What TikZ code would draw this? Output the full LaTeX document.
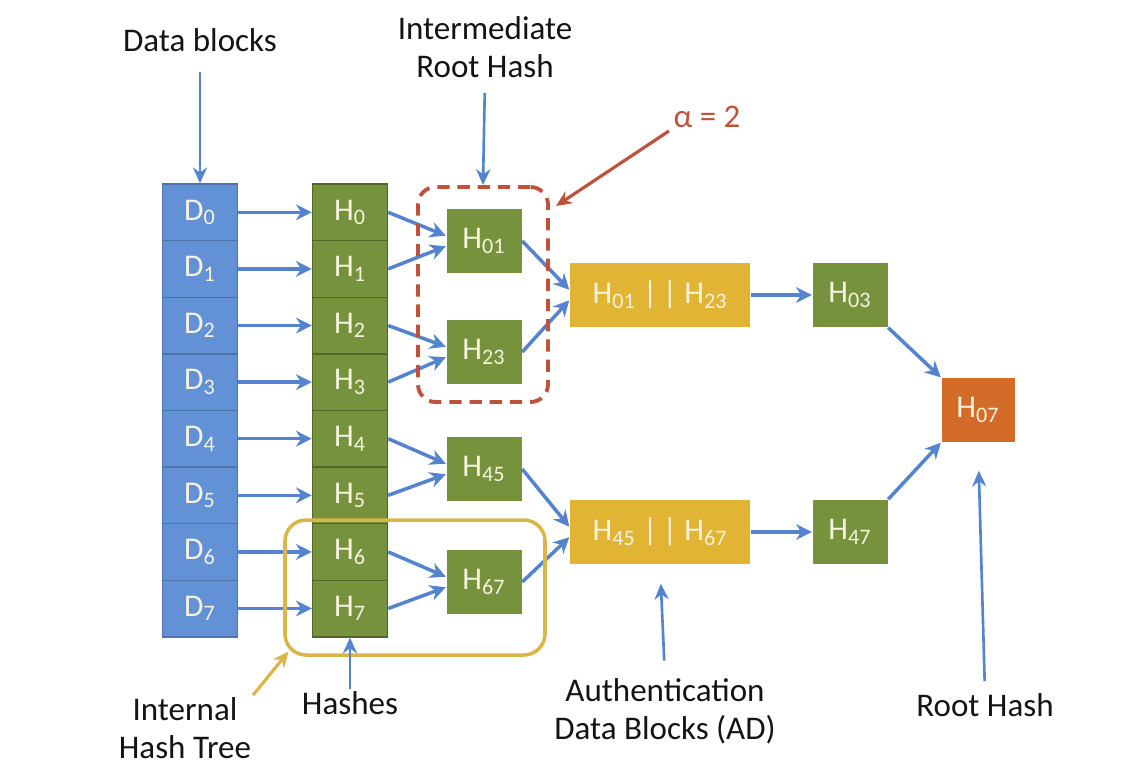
\documentclass[tikz,border=0pt]{standalone}
\usepackage{fontspec}
\setmainfont{Carlito}
\usetikzlibrary{fit,arrows.meta}
\definecolor{dblue}{RGB}{98,145,214}
\definecolor{hgreen}{RGB}{118,146,60}
\definecolor{adyellow}{RGB}{226,180,52}
\definecolor{rootorange}{RGB}{210,108,40}
\definecolor{arrblue}{RGB}{84,132,208}
\definecolor{alphared}{RGB}{192,82,60}
\definecolor{treeyellow}{RGB}{218,182,72}
\definecolor{boxtext}{RGB}{246,242,222}
\definecolor{lbltext}{RGB}{20,20,20}
\newcommand{\hs}[1]{H\textsubscript{#1}}
\tikzset{
  cell/.style={minimum width=15mm, minimum height=11.32mm, inner sep=0pt, text=boxtext, font=\fontsize{18}{20}\selectfont, line width=0.8pt},
  dcell/.style={cell, fill=dblue, draw=dblue!80!black},
  hcell/.style={cell, fill=hgreen, draw=hgreen!70!black},
  hbox/.style={cell, fill=hgreen, minimum height=12.8mm},
  adbox/.style={hbox, fill=adyellow, minimum width=36mm},
  rootbox/.style={hbox, fill=rootorange, minimum width=14.6mm},
  flow/.style={draw=arrblue, line width=2pt, -{Stealth[length=9pt,width=9pt]}},
  pointer/.style={draw=arrblue, line width=1.5pt, -{Stealth[length=9pt,width=8pt]}},
  lbl/.style={font=\fontsize{18.8}{21.5}\selectfont, text=lbltext, align=center, inner sep=0pt}
}
\begin{document}
\begin{tikzpicture}[x=0.2mm, y=-0.2mm]
  \useasboundingbox (0,0) rectangle (1138,777);
  \foreach \i in {0,...,7} {
    \node[dcell] (d\i) at (200,{212.3+56.6*\i}) {D\textsubscript{\i}};
    \node[hcell] (h\i) at (350,{212.3+56.6*\i}) {\hs{\i}};
    \draw[flow] (d\i) -- (h\i);
  }
  \node[hbox] (h01) at (484,241) {\hs{01}};
  \node[hbox] (h23) at (484,352) {\hs{23}};
  \node[hbox] (h45) at (484,469) {\hs{45}};
  \node[hbox] (h67) at (484,582) {\hs{67}};
  \node[adbox] (ad03) at (660,295) {\hs{01}\ |\,|\ \hs{23}};
  \node[adbox] (ad47) at (660,532) {\hs{45}\ |\,|\ \hs{67}};
  \node[hbox] (h03) at (850,295) {\hs{03}};
  \node[hbox] (h47) at (850,532) {\hs{47}};
  \node[rootbox] (h07) at (978,410) {\hs{07}};
  \foreach \a/\b/\p in {0/1/01, 2/3/23, 4/5/45, 6/7/67} {
    \draw[flow] (h\a.east) -- ([yshift=3pt]h\p.west);
    \draw[flow] (h\b.east) -- ([yshift=-3pt]h\p.west);
  }
  \draw[flow] (h01.east) -- ([yshift=3pt]ad03.west);
  \draw[flow] (h23.east) -- ([yshift=-3pt]ad03.west);
  \draw[flow] (h45.east) -- ([yshift=3pt]ad47.west);
  \draw[flow] (h67.east) -- ([yshift=-3pt]ad47.west);
  \draw[flow] (ad03) -- (h03);
  \draw[flow] (ad47) -- (h47);
  \draw[flow] (h03.south east) -- (h07.north west);
  \draw[flow] (h47.north east) -- (h07.south west);

  \node[draw=alphared, line width=2.2pt, dash pattern=on 7pt off 4.5pt, rounded corners=10pt, inner sep=0pt, fit={(418,187) (548,402)}] (abox) {};
  \node[draw=treeyellow, line width=2pt, rounded corners=12pt, inner sep=0pt, fit={(285,520) (545,655)}] (tbox) {};
  \coordinate (atip) at (556,206);

  \node[lbl] (lbldata) at (200,40) {Data blocks};
  \node[lbl] (lblirh) at (485,47) {Intermediate\\Root Hash};
  \node[lbl, text=alphared] (lblalpha) at (707,117) {α = 2};
  \node[lbl] (lbltree) at (185,728) {Internal\\Hash Tree};
  \node[lbl] (lblhash) at (350,703) {Hashes};
  \node[lbl] (lblad) at (665,711) {Authentication\\Data Blocks (AD)};
  \node[lbl] (lblroot) at (985,705) {Root Hash};

  \draw[pointer, shorten <=4mm] (lbldata.south) -- (d0.north);
  \draw[pointer, shorten <=3mm] (lblirh.south) -- (abox.north);
  \draw[pointer, draw=alphared, line width=1.8pt, shorten <=1mm] (lblalpha.south west) -- (atip);
  \draw[pointer, draw=treeyellow, line width=1.8pt, shorten <=0.5mm] (lbltree.north east) -- ([shift={(3pt,3pt)}]tbox.south west);
  \draw[pointer, shorten <=0.5mm] (lblhash.north) -- (h7.south);
  \draw[pointer, shorten <=3.5mm, shorten >=3.8mm] (lblad.north) -- (ad47.south);
  \draw[pointer, shorten <=2.4mm, shorten >=5.6mm] (lblroot.north) -- (h07.south);
\end{tikzpicture}
\end{document}
